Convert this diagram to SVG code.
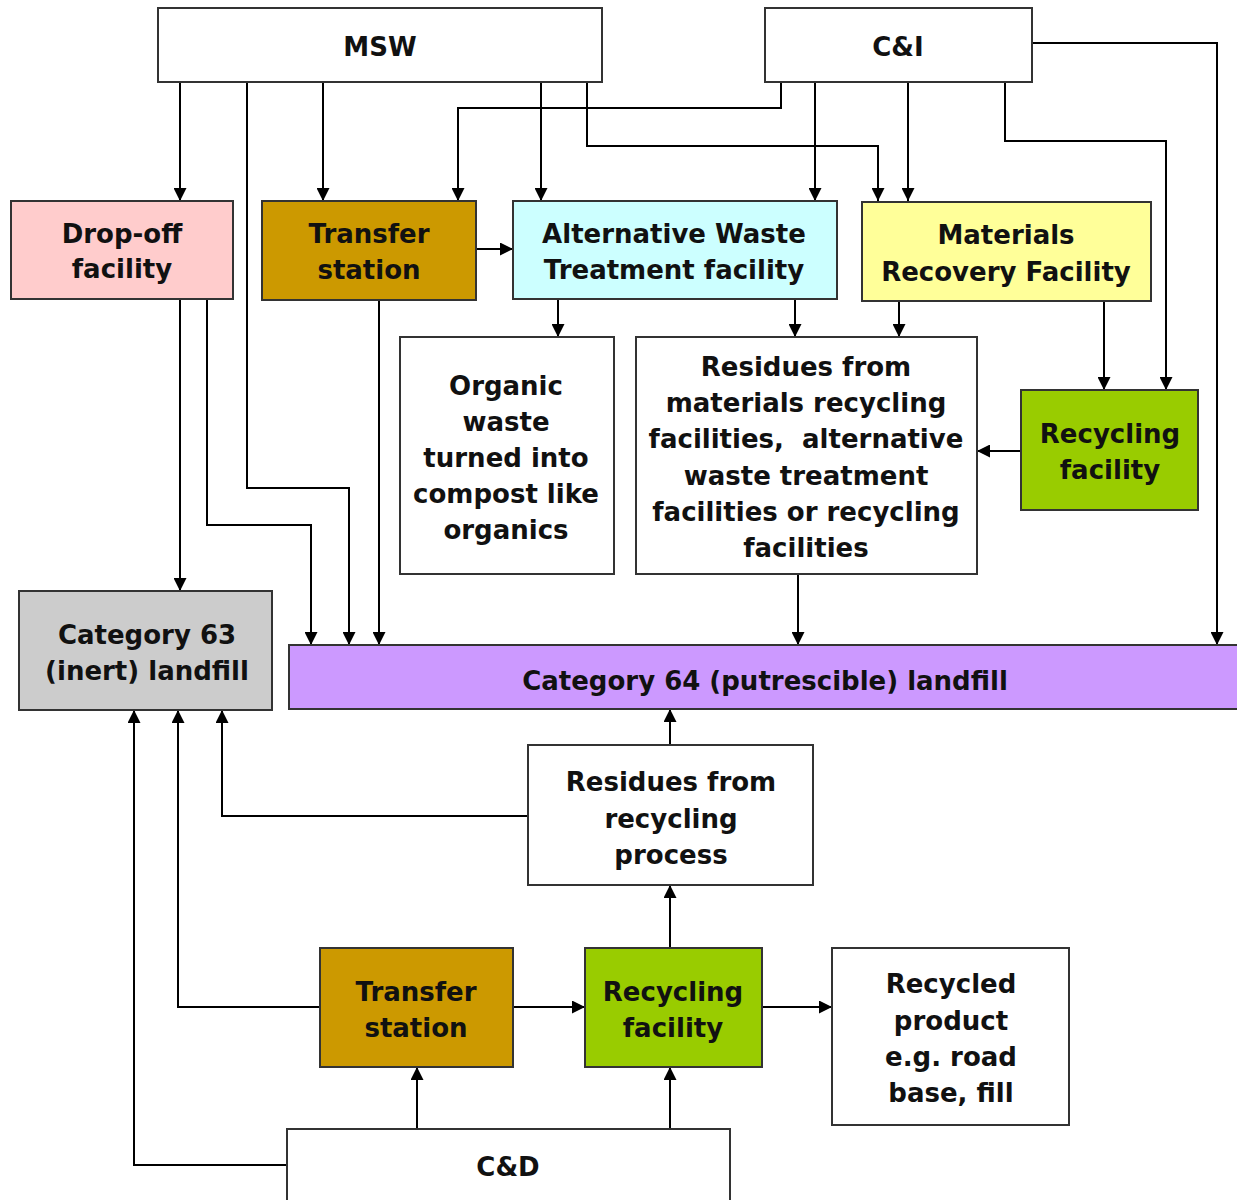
<svg xmlns="http://www.w3.org/2000/svg" width="1237" height="1200" viewBox="0 0 1237 1200">
  <defs>
    <marker id="arr" viewBox="0 0 13 13" refX="13" refY="6.5" markerWidth="13" markerHeight="13" markerUnits="userSpaceOnUse" orient="auto">
      <path d="M0,0 L13,6.5 L0,13 Z" fill="#000"/>
    </marker>
    <style>
      .box { stroke: #333; stroke-width: 2; }
      .w { fill: #fff; }
      .pink { fill: #FFCCCC; }
      .gold { fill: #CC9900; }
      .cyan { fill: #CCFFFF; }
      .yel { fill: #FFFF99; }
      .grn { fill: #99CC00; }
      .gry { fill: #CCCCCC; }
      .pur { fill: #CC99FF; }
      text { font-family: "DejaVu Sans", Verdana, sans-serif; font-size: 26px; font-weight: bold; fill: #111; text-anchor: middle; }
      .c path { fill: none; stroke: #000; stroke-width: 2; marker-end: url(#arr); }
    </style>
  </defs>
  <rect width="1237" height="1200" fill="#fff"/>

  <!-- connectors -->
  <g id="connectors" class="c">
    <!-- MSW outputs -->
    <path d="M180,82 V201"/>
    <path d="M247,82 V488 H349 V645"/>
    <path d="M323,82 V201"/>
    <path d="M541,82 V201"/>
    <path d="M587,82 V146 H878 V201"/>
    <!-- C&I outputs -->
    <path d="M781,82 V108 H458 V201"/>
    <path d="M815,82 V201"/>
    <path d="M908,82 V201"/>
    <path d="M1005,82 V141 H1166 V390"/>
    <path d="M1032,43 H1217 V645"/>
    <!-- transfer station to AWT -->
    <path d="M476,249 H513"/>
    <!-- drop-off outputs -->
    <path d="M180,299 V591"/>
    <path d="M207,299 V525 H311 V645"/>
    <!-- transfer station to landfill -->
    <path d="M379,300 V645"/>
    <!-- AWT outputs -->
    <path d="M558,299 V337"/>
    <path d="M795,299 V337"/>
    <!-- MRF outputs -->
    <path d="M899,301 V337"/>
    <path d="M1104,301 V390"/>
    <!-- recycling to residues -->
    <path d="M1021,451 H977"/>
    <!-- residues to cat 64 -->
    <path d="M798,574 V645"/>
    <!-- residues from recycling process -->
    <path d="M670,745 V709"/>
    <path d="M528,816 H222 V710"/>
    <!-- C&D stream -->
    <path d="M320,1007 H178 V710"/>
    <path d="M287,1165 H134 V710"/>
    <path d="M513,1007 H585"/>
    <path d="M670,948 V885"/>
    <path d="M762,1007 H832"/>
    <path d="M417,1129 V1067"/>
    <path d="M670,1129 V1067"/>
  </g>

  <g id="msw"><rect class="box w" x="158" y="8" width="444" height="74"/><text x="380" y="56">MSW</text></g>
  <g id="ci"><rect class="box w" x="765" y="8" width="267" height="74"/><text x="898" y="56">C&amp;I</text></g>

  <g id="dropoff"><rect class="box pink" x="11" y="201" width="222" height="98"/>
    <text x="122" y="243">Drop-off</text><text x="122" y="278">facility</text></g>
  <g id="transfer-top"><rect class="box gold" x="262" y="201" width="214" height="99"/>
    <text x="369" y="243">Transfer</text><text x="369" y="279">station</text></g>
  <g id="awt"><rect class="box cyan" x="513" y="201" width="324" height="98"/>
    <text x="674" y="243">Alternative Waste</text><text x="674" y="279">Treatment facility</text></g>
  <g id="mrf"><rect class="box yel" x="862" y="202" width="289" height="99"/>
    <text x="1006" y="244">Materials</text><text x="1006" y="281">Recovery Facility</text></g>

  <g id="organic"><rect class="box w" x="400" y="337" width="214" height="237"/>
    <text x="506" y="395">Organic</text><text x="506" y="431">waste</text><text x="506" y="467">turned into</text><text x="506" y="503">compost like</text><text x="506" y="539">organics</text></g>
  <g id="residues"><rect class="box w" x="636" y="337" width="341" height="237"/>
    <text x="806" y="376">Residues from</text><text x="806" y="412">materials recycling</text><text x="806" y="448" xml:space="preserve">facilities,  alternative</text><text x="806" y="485">waste treatment</text><text x="806" y="521">facilities or recycling</text><text x="806" y="557">facilities</text></g>
  <g id="recycling-top"><rect class="box grn" x="1021" y="390" width="177" height="120"/>
    <text x="1110" y="443">Recycling</text><text x="1110" y="479">facility</text></g>

  <g id="cat63"><rect class="box gry" x="19" y="591" width="253" height="119"/>
    <text x="147" y="644">Category 63</text><text x="147" y="680">(inert) landfill</text></g>
  <g id="cat64"><rect class="box pur" x="289" y="645" width="960" height="64"/>
    <text x="765" y="690">Category 64 (putrescible) landfill</text></g>

  <g id="residues-recycling"><rect class="box w" x="528" y="745" width="285" height="140"/>
    <text x="671" y="791">Residues from</text><text x="671" y="828">recycling</text><text x="671" y="864">process</text></g>

  <g id="transfer-bottom"><rect class="box gold" x="320" y="948" width="193" height="119"/>
    <text x="416" y="1001">Transfer</text><text x="416" y="1037">station</text></g>
  <g id="recycling-bottom"><rect class="box grn" x="585" y="948" width="177" height="119"/>
    <text x="673" y="1001">Recycling</text><text x="673" y="1037">facility</text></g>
  <g id="recycled-product"><rect class="box w" x="832" y="948" width="237" height="177"/>
    <text x="951" y="993">Recycled</text><text x="951" y="1030">product</text><text x="951" y="1066">e.g. road</text><text x="951" y="1102">base, fill</text></g>

  <g id="cd"><rect class="box w" x="287" y="1129" width="443" height="90"/><text x="508" y="1176">C&amp;D</text></g>
</svg>
